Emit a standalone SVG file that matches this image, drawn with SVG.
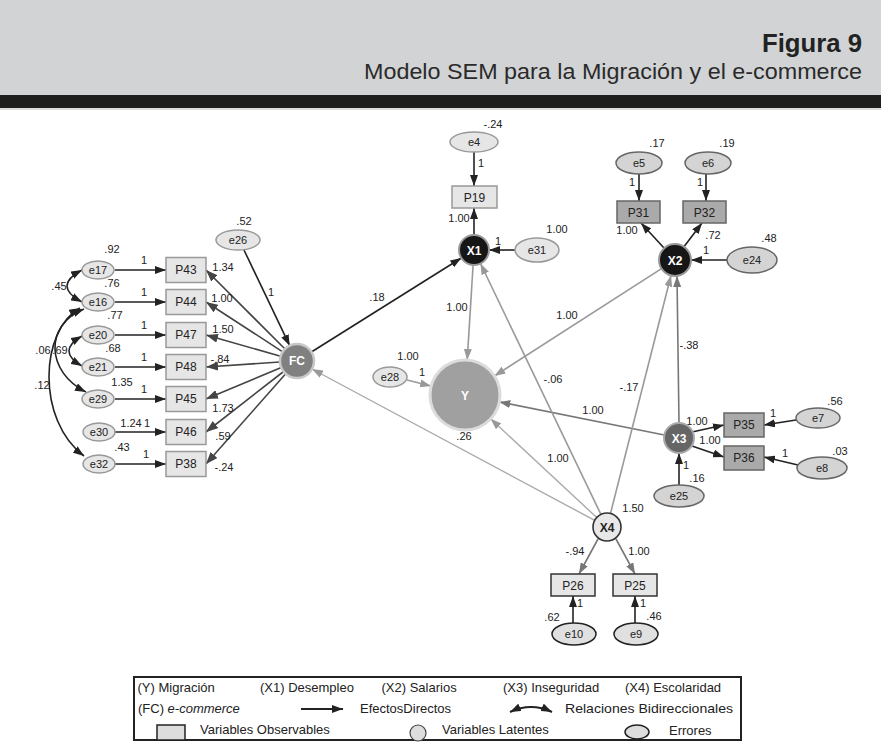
<svg xmlns="http://www.w3.org/2000/svg" width="881" height="746" viewBox="0 0 881 746">
<defs>
<marker id="ad" viewBox="0 0 11 8" refX="11" refY="4" markerWidth="11" markerHeight="8" markerUnits="userSpaceOnUse" orient="auto-start-reverse"><path d="M0,0L11,4L0,8z" fill="#222"/></marker>
<marker id="ag" viewBox="0 0 11 8" refX="11" refY="4" markerWidth="11" markerHeight="8" markerUnits="userSpaceOnUse" orient="auto"><path d="M0,0L11,4L0,8z" fill="#999"/></marker>
<marker id="am" viewBox="0 0 11 8" refX="11" refY="4" markerWidth="11" markerHeight="8" markerUnits="userSpaceOnUse" orient="auto"><path d="M0,0L11,4L0,8z" fill="#777"/></marker>
<marker id="af" viewBox="0 0 12 9" refX="12" refY="4.5" markerWidth="12" markerHeight="9" markerUnits="userSpaceOnUse" orient="auto"><path d="M0,0L12,4.5L0,9z" fill="#444"/></marker>
</defs>
<style>
text{font-family:"Liberation Sans",Arial,sans-serif}
.lbl{font-size:11px;fill:#222;text-anchor:middle}
.nt{font-size:12px;fill:#222;text-anchor:middle}
.et{font-size:11px;fill:#222;text-anchor:middle}
.lt{font-size:12px;font-weight:bold;fill:#fff;text-anchor:middle}
.obs{fill:#e6e6e6;stroke:#999;stroke-width:1.5}
.obsd{fill:#aaa;stroke:#666;stroke-width:1.5}
.obsb{fill:#e6e6e6;stroke:#333;stroke-width:1.5}
.err{fill:#e6e6e6;stroke:#999;stroke-width:1.5}
.errd{fill:#d4d4d4;stroke:#666;stroke-width:1.5}
.errb{fill:#e0e0e0;stroke:#222;stroke-width:1.5}
.cd{stroke:#222;stroke-width:1.6;fill:none;marker-end:url(#ad)}
.cf{stroke:#444;stroke-width:1.6;fill:none;marker-end:url(#af)}
.cg{stroke:#999;stroke-width:1.6;fill:none;marker-end:url(#ag)}
.cl{stroke:#aaa;stroke-width:1.4;fill:none;marker-end:url(#ag)}
.cm{stroke:#777;stroke-width:1.6;fill:none;marker-end:url(#am)}
.cov{stroke:#222;stroke-width:1.6;fill:none;marker-start:url(#ad);marker-end:url(#ad)}
.lg{font-size:13px;fill:#222}
</style>
<rect width="881" height="746" fill="#fff"/>
<g id="header">
<rect x="0" y="0" width="881" height="95" fill="#d2d3d5"/>
<rect x="0" y="95" width="881" height="13" fill="#1e1e1c"/>
<line x1="0" y1="109" x2="881" y2="109" stroke="#bbb" stroke-width="1"/>
<text x="862" y="52" text-anchor="end" font-size="25" font-weight="bold" fill="#222" textLength="100" lengthAdjust="spacingAndGlyphs">Figura 9</text>
<text x="862" y="79" text-anchor="end" font-size="22" fill="#2a2a2a" textLength="498" lengthAdjust="spacingAndGlyphs">Modelo SEM para la Migración y el e-commerce</text>
</g>
<g id="connectors">
<line class="cd" x1="115" y1="270" x2="166" y2="270"/>
<line class="cd" x1="115" y1="302" x2="166" y2="302"/>
<line class="cd" x1="115" y1="335" x2="166" y2="335"/>
<line class="cd" x1="115" y1="367" x2="166" y2="367"/>
<line class="cd" x1="115" y1="399" x2="166" y2="399"/>
<line class="cd" x1="115" y1="432" x2="166" y2="432"/>
<line class="cd" x1="115" y1="464" x2="166" y2="464"/>
<line class="cf" x1="285" y1="349" x2="206" y2="270"/>
<line class="cf" x1="282.7" y1="351.8" x2="206" y2="302"/>
<line class="cf" x1="280.6" y1="356.3" x2="206" y2="335"/>
<line class="cf" x1="280" y1="362" x2="206" y2="367"/>
<line class="cf" x1="281.3" y1="367.5" x2="206" y2="399"/>
<line class="cf" x1="283.6" y1="371.5" x2="206" y2="432"/>
<line class="cf" x1="285.7" y1="373.7" x2="206" y2="464"/>
<line class="cd" x1="244" y1="250" x2="289.7" y2="345.7"/>
<path class="cov" d="M82,270 Q52,286 82,302"/>
<path class="cov" d="M82,336 Q56,351 82,366"/>
<path class="cov" d="M84,309 C44,325 46,372 86,392"/>
<path class="cov" d="M80,308 C40,330 36,420 84,456"/>
<line class="cd" x1="311.4" y1="352" x2="461.3" y2="258"/>
<line class="cl" x1="594.7" y1="520.4" x2="312" y2="369"/>
<line class="cg" x1="473.1" y1="265" x2="467.2" y2="360"/>
<line class="cg" x1="661.5" y1="268.7" x2="494.4" y2="376"/>
<line class="cm" x1="664.3" y1="435" x2="499.3" y2="401.9"/>
<line class="cl" x1="596.7" y1="517.5" x2="490.6" y2="418.8"/>
<line class="cg" x1="600.9" y1="514.4" x2="480.5" y2="263.5"/>
<line class="cg" x1="610.5" y1="513.4" x2="671" y2="275.5"/>
<line class="cm" x1="679" y1="423" x2="677" y2="276"/>
<line class="cg" x1="407" y1="380" x2="431" y2="386"/>
<line class="cd" x1="474" y1="152" x2="474" y2="186"/>
<line class="cd" x1="474" y1="235" x2="474" y2="208"/>
<line class="cd" x1="515" y1="250" x2="489" y2="250"/>
<line class="cd" x1="639" y1="174" x2="639" y2="201"/>
<line class="cd" x1="706" y1="174" x2="706" y2="201"/>
<line class="cd" x1="664" y1="248" x2="641" y2="223"/>
<line class="cd" x1="683" y1="248" x2="702" y2="223"/>
<line class="cd" x1="727" y1="260" x2="691" y2="260"/>
<line class="cd" x1="692" y1="432" x2="724" y2="425"/>
<line class="cd" x1="692" y1="446" x2="724" y2="457"/>
<line class="cd" x1="796" y1="420" x2="764" y2="425"/>
<line class="cd" x1="798" y1="465" x2="764" y2="457"/>
<line class="cd" x1="679" y1="485" x2="679" y2="453"/>
<line class="cm" x1="598" y1="539" x2="579" y2="574"/>
<line class="cm" x1="616" y1="539" x2="635" y2="574"/>
<line class="cd" x1="573" y1="623" x2="573" y2="596"/>
<line class="cd" x1="635" y1="623" x2="635" y2="596"/>
</g>
<g id="edge-labels">
<text class="lbl" x="144" y="264">1</text>
<text class="lbl" x="144" y="296">1</text>
<text class="lbl" x="144" y="329">1</text>
<text class="lbl" x="144" y="361">1</text>
<text class="lbl" x="144" y="393">1</text>
<text class="lbl" x="147" y="427">1</text>
<text class="lbl" x="146" y="458">1</text>
<text class="lbl" x="223" y="271">1.34</text>
<text class="lbl" x="222" y="302">1.00</text>
<text class="lbl" x="223" y="333">1.50</text>
<text class="lbl" x="220" y="363">-.84</text>
<text class="lbl" x="223" y="412">1.73</text>
<text class="lbl" x="223" y="440">.59</text>
<text class="lbl" x="224" y="471">-.24</text>
<text class="lbl" x="271" y="296">1</text>
<text class="lbl" x="59" y="290">.45</text>
<text class="lbl" x="43" y="354">.06</text>
<text class="lbl" x="60" y="354">.69</text>
<text class="lbl" x="42" y="389">.12</text>
<text class="lbl" x="377" y="301">.18</text>
<text class="lbl" x="464" y="440">.26</text>
<text class="lbl" x="457" y="311">1.00</text>
<text class="lbl" x="567" y="319">1.00</text>
<text class="lbl" x="553" y="383">-.06</text>
<text class="lbl" x="629" y="391">-.17</text>
<text class="lbl" x="689" y="349">-.38</text>
<text class="lbl" x="593" y="414">1.00</text>
<text class="lbl" x="558" y="462">1.00</text>
<text class="lbl" x="422" y="376">1</text>
<text class="lbl" x="481" y="167">1</text>
<text class="lbl" x="459" y="222">1.00</text>
<text class="lbl" x="498" y="245">1</text>
<text class="lbl" x="632" y="186">1</text>
<text class="lbl" x="700" y="186">1</text>
<text class="lbl" x="627" y="234">1.00</text>
<text class="lbl" x="713" y="239">.72</text>
<text class="lbl" x="706" y="254">1</text>
<text class="lbl" x="697" y="425">1.00</text>
<text class="lbl" x="710" y="444">1.00</text>
<text class="lbl" x="773" y="417">1</text>
<text class="lbl" x="785" y="457">1</text>
<text class="lbl" x="686" y="469">1</text>
<text class="lbl" x="575" y="555">-.94</text>
<text class="lbl" x="639" y="555">1.00</text>
<text class="lbl" x="580" y="607">1</text>
<text class="lbl" x="643" y="607">1</text>
</g>
<g id="P43"><rect class="obs" x="166" y="257.5" width="40" height="25"/><text class="nt" x="186" y="274">P43</text></g>
<g id="P44"><rect class="obs" x="166" y="289.5" width="40" height="25"/><text class="nt" x="186" y="306">P44</text></g>
<g id="P47"><rect class="obs" x="166" y="322.5" width="40" height="25"/><text class="nt" x="186" y="339">P47</text></g>
<g id="P48"><rect class="obs" x="166" y="354.5" width="40" height="25"/><text class="nt" x="186" y="371">P48</text></g>
<g id="P45"><rect class="obs" x="166" y="386.5" width="40" height="25"/><text class="nt" x="186" y="403">P45</text></g>
<g id="P46"><rect class="obs" x="166" y="419.5" width="40" height="25"/><text class="nt" x="186" y="436">P46</text></g>
<g id="P38"><rect class="obs" x="166" y="451.5" width="40" height="25"/><text class="nt" x="186" y="468">P38</text></g>
<g id="e17"><ellipse class="err" cx="98" cy="270" rx="16" ry="9"/><text class="et" x="98" y="274">e17</text><text class="lbl" x="112" y="253">.92</text></g>
<g id="e16"><ellipse class="err" cx="98" cy="302" rx="16" ry="9"/><text class="et" x="98" y="306">e16</text><text class="lbl" x="112" y="287">.76</text></g>
<g id="e20"><ellipse class="err" cx="98" cy="335" rx="16" ry="9"/><text class="et" x="98" y="339">e20</text><text class="lbl" x="115" y="319">.77</text></g>
<g id="e21"><ellipse class="err" cx="98" cy="367" rx="16" ry="9"/><text class="et" x="98" y="371">e21</text><text class="lbl" x="113" y="352">.68</text></g>
<g id="e29"><ellipse class="err" cx="98" cy="399" rx="16" ry="9"/><text class="et" x="98" y="403">e29</text><text class="lbl" x="122" y="386">1.35</text></g>
<g id="e30"><ellipse class="err" cx="99" cy="432" rx="16" ry="9"/><text class="et" x="99" y="436">e30</text><text class="lbl" x="131" y="427">1.24</text></g>
<g id="e32"><ellipse class="err" cx="99" cy="464" rx="16" ry="9"/><text class="et" x="99" y="468">e32</text><text class="lbl" x="122" y="451">.43</text></g>
<g id="e26"><ellipse class="err" cx="238" cy="240" rx="22" ry="10"/><text class="et" x="238" y="244">e26</text><text class="lbl" x="244" y="225">.52</text></g>
<g id="FC"><circle cx="297" cy="361" r="17" fill="#808080" stroke="#c8c8c8" stroke-width="2.5"/><text class="lt" x="297" y="365">FC</text></g>
<g id="e4"><ellipse class="err" cx="474" cy="142" rx="24" ry="10"/><text class="et" x="474" y="146">e4</text><text class="lbl" x="493" y="128">-.24</text></g>
<g id="P19"><rect class="obs" x="452" y="186" width="45" height="22" fill="#dcdcdc"/><text class="nt" x="474.5" y="201.5">P19</text></g>
<g id="X1"><circle cx="474" cy="250" r="15" fill="#161616" stroke="#999" stroke-width="2"/><text class="lt" x="474" y="254.5">X1</text></g>
<g id="e31"><ellipse class="err" cx="537" cy="250" rx="22" ry="12"/><text class="et" x="537" y="254">e31</text><text class="lbl" x="557" y="233">1.00</text></g>
<g id="e5"><ellipse class="errd" cx="639" cy="163" rx="23" ry="11"/><text class="et" x="639" y="167">e5</text><text class="lbl" x="657" y="147">.17</text></g>
<g id="e6"><ellipse class="errd" cx="708" cy="163" rx="23" ry="11"/><text class="et" x="708" y="167">e6</text><text class="lbl" x="727" y="147">.19</text></g>
<g id="P31"><rect class="obsd" x="617" y="201" width="43" height="22"/><text class="nt" x="638.5" y="216.5">P31</text></g>
<g id="P32"><rect class="obsd" x="683" y="201" width="43" height="22"/><text class="nt" x="704.5" y="216.5">P32</text></g>
<g id="X2"><circle cx="675" cy="260" r="16" fill="#161616" stroke="#999" stroke-width="2"/><text class="lt" x="675" y="264.5">X2</text></g>
<g id="e24"><ellipse class="errd" cx="752" cy="260" rx="25" ry="13"/><text class="et" x="752" y="264">e24</text><text class="lbl" x="769" y="242">.48</text></g>
<g id="Y"><circle cx="465" cy="395" r="35" fill="#a0a0a0" stroke="#dcdcdc" stroke-width="3"/><text class="lt" x="465" y="400" font-size="15">Y</text></g>
<g id="e28"><ellipse class="err" cx="390" cy="377" rx="17" ry="10"/><text class="et" x="390" y="381">e28</text><text class="lbl" x="408" y="360">1.00</text></g>
<g id="X3"><circle cx="679" cy="438" r="15" fill="#666" stroke="#aaa" stroke-width="2"/><text class="lt" x="679" y="442.5">X3</text></g>
<g id="P35"><rect class="obsd" x="724" y="413" width="40" height="24"/><text class="nt" x="744" y="429">P35</text></g>
<g id="P36"><rect class="obsd" x="724" y="446" width="40" height="24"/><text class="nt" x="744" y="462">P36</text></g>
<g id="e7"><ellipse class="errd" cx="818" cy="418" rx="22" ry="10"/><text class="et" x="818" y="422">e7</text><text class="lbl" x="835" y="405">.56</text></g>
<g id="e8"><ellipse class="errd" cx="822" cy="468" rx="25" ry="11"/><text class="et" x="822" y="472">e8</text><text class="lbl" x="840" y="455">.03</text></g>
<g id="e25"><ellipse class="errd" cx="679" cy="496" rx="25" ry="11"/><text class="et" x="679" y="500">e25</text><text class="lbl" x="697" y="482">.16</text></g>
<g id="X4"><circle cx="607" cy="527" r="14" fill="#e8e8e8" stroke="#333" stroke-width="1.6"/><text class="nt" x="607" y="531.5" font-weight="bold">X4</text><text class="lbl" x="633" y="512">1.50</text></g>
<g id="P26"><rect class="obsb" x="551" y="574" width="44" height="22"/><text class="nt" x="573" y="589.5">P26</text></g>
<g id="P25"><rect class="obsb" x="613" y="574" width="44" height="22"/><text class="nt" x="635" y="589.5">P25</text></g>
<g id="e10"><ellipse class="errb" cx="574" cy="634" rx="22" ry="11"/><text class="et" x="574" y="638">e10</text><text class="lbl" x="552" y="621">.62</text></g>
<g id="e9"><ellipse class="errb" cx="636" cy="634" rx="22" ry="11"/><text class="et" x="636" y="638">e9</text><text class="lbl" x="654" y="620">.46</text></g>
<g id="legend">
<rect x="134" y="677" width="607" height="63" fill="#fff" stroke="#222" stroke-width="2"/>
<text class="lg" x="137.5" y="692">(Y) Migración</text>
<text class="lg" x="260" y="692">(X1) Desempleo</text>
<text class="lg" x="381.5" y="692">(X2) Salarios</text>
<text class="lg" x="503" y="692">(X3) Inseguridad</text>
<text class="lg" x="625" y="692">(X4) Escolaridad</text>
<text class="lg" x="138" y="713">(FC) <tspan font-style="italic">e-commerce</tspan></text>
<line x1="301" y1="709" x2="343" y2="709" stroke="#222" stroke-width="2" marker-end="url(#ad)"/>
<text class="lg" x="360" y="713">EfectosDirectos</text>
<path d="M510,712 Q531,702 552,712" stroke="#222" stroke-width="2" fill="none" marker-start="url(#ad)" marker-end="url(#ad)"/>
<text class="lg" x="565" y="713" textLength="168" lengthAdjust="spacingAndGlyphs">Relaciones Bidireccionales</text>
<rect x="157" y="725" width="28" height="15" fill="#ddd" stroke="#222" stroke-width="1.5"/>
<text class="lg" x="200" y="734">Variables Observables</text>
<circle cx="418" cy="733" r="8" fill="#ddd" stroke="#444" stroke-width="1.2"/>
<text class="lg" x="442" y="734">Variables Latentes</text>
<ellipse cx="637" cy="732" rx="12" ry="7" fill="#ddd" stroke="#222" stroke-width="1.5"/>
<text class="lg" x="669" y="735">Errores</text>
</g>
</svg>
